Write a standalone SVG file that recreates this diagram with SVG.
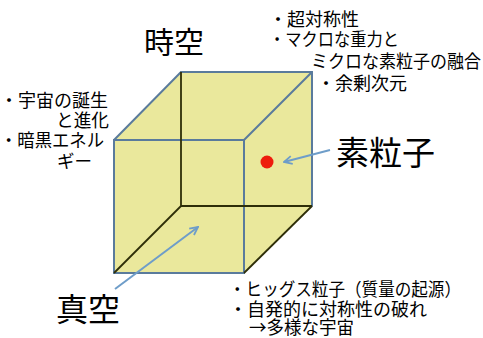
<svg xmlns="http://www.w3.org/2000/svg" width="483" height="338" viewBox="0 0 483 338">
<style>
text{font-family:"Noto Sans CJK JP","Noto Sans CJK SC",sans-serif;fill:#000}
.s{font-size:18px}
.blue{stroke:#5a7b9c;stroke-width:2;fill:none;stroke-linecap:round}
.dark{stroke:#2e2e08;stroke-width:1.8;fill:none}
.arr{stroke:#6e9dc9;stroke-width:2;fill:none;marker-end:url(#ah)}
</style>
<defs>
<marker id="ah" viewBox="0 0 10 10" refX="9" refY="5" markerWidth="10" markerHeight="10" markerUnits="userSpaceOnUse" orient="auto">
<path d="M1,1 L9,5 L1,9" fill="none" stroke="#6e9dc9" stroke-width="1.8"/>
</marker>
</defs>
<rect width="483" height="338" fill="#fff"/>
<g id="cube">
<polygon points="114,140 181,72 312,72 312,206 244,273 114,273" fill="#eae89c"/>
<g class="blue">
<rect x="114" y="140" width="130" height="133"/>
<line x1="114" y1="140" x2="181" y2="72"/>
<line x1="181" y1="72" x2="312" y2="72"/>
<line x1="244" y1="140" x2="312" y2="72"/>
<line x1="312" y1="72" x2="312" y2="206"/>
</g>
<g class="dark">
<line x1="181" y1="72" x2="181" y2="206"/>
<line x1="181" y1="206" x2="312" y2="206"/>
<line x1="114" y1="273" x2="181" y2="206"/>
<line x1="244" y1="273" x2="312" y2="206"/>
</g>
<circle id="particle" cx="267" cy="162" r="6.5" fill="#ee1c0c"/>
</g>
<g id="connectors">
<line class="arr" x1="330" y1="150" x2="284" y2="162"/>
<line class="arr" x1="115" y1="289" x2="198" y2="227"/>
</g>
<g id="label-spacetime"><text x="144" y="53" font-size="30">時空</text></g>
<g id="label-vacuum"><text x="56" y="321" font-size="32">真空</text></g>
<g id="label-particle"><text x="336" y="165" font-size="33">素粒子</text></g>
<g id="notes-top">
<text class="s" x="269" y="26">・超対称性</text>
<text class="s" x="269" y="46" textLength="130" lengthAdjust="spacingAndGlyphs">・マクロな重力と</text>
<text class="s" x="311" y="68" textLength="170" lengthAdjust="spacingAndGlyphs">ミクロな素粒子の融合</text>
<text class="s" x="317" y="90">・余剰次元</text>
</g>
<g id="notes-left">
<text class="s" x="0" y="107">・宇宙の誕生</text>
<text class="s" x="56" y="127" textLength="53" lengthAdjust="spacingAndGlyphs">と進化</text>
<text class="s" x="0" y="147" textLength="104" lengthAdjust="spacingAndGlyphs">・暗黒エネル</text>
<text class="s" x="57" y="168" textLength="35" lengthAdjust="spacingAndGlyphs">ギー</text>
</g>
<g id="notes-bottom">
<text class="s" x="229" y="296" textLength="232" lengthAdjust="spacingAndGlyphs">・ヒッグス粒子（質量の起源）</text>
<text class="s" x="229" y="316">・自発的に対称性の破れ</text>
<text class="s" x="249" y="334" textLength="105" lengthAdjust="spacingAndGlyphs">→多様な宇宙</text>
</g>
</svg>
